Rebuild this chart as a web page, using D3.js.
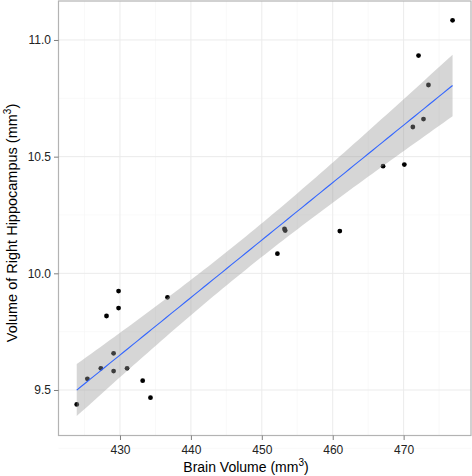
<!DOCTYPE html>
<html><head><meta charset="utf-8">
<script src="https://cdn.jsdelivr.net/npm/d3@7"></script>
<style>
html,body{margin:0;padding:0;background:#fff;}
text{font-family:"Liberation Sans",Arial,Helvetica,sans-serif;}
</style>
</head><body>
<svg id="chart" width="472" height="476"></svg>
<script>
// Data
const brainVolume = [423.9, 425.4, 427.3, 429.1, 429.1, 431.0, 428.1, 429.8, 429.8, 433.2, 434.3, 436.7,
                     452.2, 453.2, 453.3, 461.0, 467.1, 470.1, 471.3, 472.8, 473.5, 472.1, 476.9];
const hippocampus = [9.438, 9.548, 9.593, 9.657, 9.581, 9.593, 9.817, 9.851, 9.924, 9.540, 9.467, 9.897,
                     10.084, 10.19, 10.183, 10.181, 10.459, 10.466, 10.627, 10.661, 10.807, 10.933, 11.084];
const xTicks = [430, 440, 450, 460, 470];
const yTicks = [9.5, 10.0, 10.5, 11.0];
const xMinor = [425, 435, 445, 455, 465, 475];
const yMinor = [9.25, 9.75, 10.25, 10.75];
const tCrit = 2.080; // t(0.975, df = n-2)

const svg = d3.select("#chart");
const P = {l: 58.5, r: 471, t: 1, b: 435.5};
const x = d3.scaleLinear().domain([421.33, 479.5]).range([P.l, P.r]);
const y = d3.scaleLinear().domain([9.305, 11.167]).range([P.b, P.t]);

svg.append("rect").attr("x", P.l).attr("y", P.t).attr("width", P.r - P.l).attr("height", P.b - P.t).attr("fill", "#fff");

const grid = svg.append("g");
grid.selectAll(".xm").data(xMinor).join("line")
  .attr("x1", d => x(d)).attr("x2", d => x(d)).attr("y1", P.t).attr("y2", P.b)
  .attr("stroke", "#f5f5f5").attr("stroke-width", 0.6);
grid.selectAll(".ym").data(yMinor).join("line")
  .attr("y1", d => y(d)).attr("y2", d => y(d)).attr("x1", P.l).attr("x2", P.r)
  .attr("stroke", "#f5f5f5").attr("stroke-width", 0.6);
grid.selectAll(".xM").data(xTicks).join("line")
  .attr("x1", d => x(d)).attr("x2", d => x(d)).attr("y1", P.t).attr("y2", P.b)
  .attr("stroke", "#ebebeb").attr("stroke-width", 1);
grid.selectAll(".yM").data(yTicks).join("line")
  .attr("y1", d => y(d)).attr("y2", d => y(d)).attr("x1", P.l).attr("x2", P.r)
  .attr("stroke", "#ebebeb").attr("stroke-width", 1);

// points
const pts = brainVolume.map((v, i) => ({x: v, y: hippocampus[i]}));
svg.append("g").selectAll("circle").data(pts).join("circle")
  .attr("cx", d => x(d.x)).attr("cy", d => y(d.y)).attr("r", 2.4).attr("fill", "#000");

// linear fit with 95% confidence band
const n = pts.length;
const mx = d3.mean(brainVolume), my = d3.mean(hippocampus);
const sxx = d3.sum(brainVolume, v => (v - mx) ** 2);
const sxy = d3.sum(pts, d => (d.x - mx) * (d.y - my));
const b1 = sxy / sxx, b0 = my - b1 * mx;
const sse = d3.sum(pts, d => (d.y - (b0 + b1 * d.x)) ** 2);
const s = Math.sqrt(sse / (n - 2));
const [xmin, xmax] = d3.extent(brainVolume);
const fit = d3.range(0, 81).map(i => {
  const xv = xmin + (xmax - xmin) * i / 80;
  const yv = b0 + b1 * xv;
  const se = s * Math.sqrt(1 / n + (xv - mx) ** 2 / sxx);
  return {x: xv, y: yv, lo: yv - tCrit * se, hi: yv + tCrit * se};
});
svg.append("path").datum(fit)
  .attr("d", d3.area().x(d => x(d.x)).y0(d => y(d.lo)).y1(d => y(d.hi)))
  .attr("fill", "#999999").attr("fill-opacity", 0.4);
svg.append("path").datum(fit)
  .attr("d", d3.line().x(d => x(d.x)).y(d => y(d.y)))
  .attr("fill", "none").attr("stroke", "#3366FF").attr("stroke-width", 1.1);

// border
svg.append("rect").attr("x", P.l).attr("y", P.t).attr("width", P.r - P.l).attr("height", P.b - P.t)
  .attr("fill", "none").attr("stroke", "#b3b3b3").attr("stroke-width", 1.2);

// axes
const xAxis = svg.append("g").attr("transform", `translate(0,${P.b})`)
  .call(d3.axisBottom(x).tickValues(xTicks).tickSize(4.5).tickPadding(5).tickFormat(d3.format("d")));
const yAxis = svg.append("g").attr("transform", `translate(${P.l},0)`)
  .call(d3.axisLeft(y).tickValues(yTicks).tickSize(4.5).tickPadding(3).tickFormat(d3.format(".1f")));
[xAxis, yAxis].forEach(g => {
  g.select(".domain").remove();
  g.selectAll(".tick line").attr("stroke", "#7f7f7f");
  g.selectAll(".tick text").attr("fill", "#222").attr("font-size", 12)
    .attr("font-family", "'Liberation Sans', Arial, sans-serif");
});

// axis titles
const xt = svg.append("text").attr("x", 246).attr("y", 471.5).attr("text-anchor", "middle")
  .attr("font-size", 14).attr("fill", "#000");
xt.append("tspan").text("Brain Volume (mm");
xt.append("tspan").text("3").attr("font-size", 10).attr("dy", -6);
xt.append("tspan").text(")").attr("dy", 6);

const yt = svg.append("text").attr("transform", "translate(17,223) rotate(-90)").attr("text-anchor", "middle")
  .attr("font-size", 14.5).attr("fill", "#000");
yt.append("tspan").text("Volume of Right Hippocampus (mm");
yt.append("tspan").text("3").attr("font-size", 10).attr("dy", -6);
yt.append("tspan").text(")").attr("dy", 6);
</script>
</body></html>
